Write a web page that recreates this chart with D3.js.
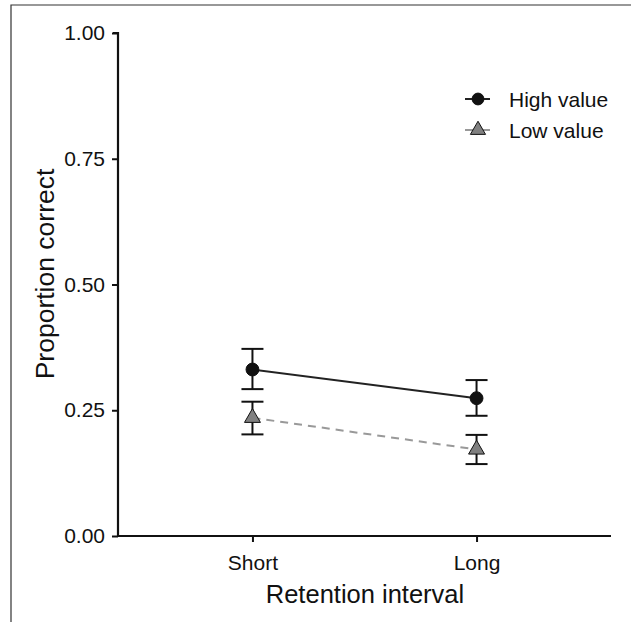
<!DOCTYPE html>
<html><head><meta charset="utf-8">
<script src="https://cdn.jsdelivr.net/npm/d3@7"></script>
<style>body{margin:0;background:#fff}svg{display:block}text{font-family:"Liberation Sans",Arial,sans-serif;fill:#111}</style>
</head><body>
<script>
const categories = ["Short", "Long"];
const seriesNames = ["High value", "Low value"];
const highMean = [0.331, 0.274];
const highLower = [0.292, 0.239];
const highUpper = [0.372, 0.310];
const lowMean = [0.235, 0.172];
const lowLower = [0.202, 0.143];
const lowUpper = [0.267, 0.201];
const yTicks = [0, 0.25, 0.5, 0.75, 1.0];

const W = 631, H = 622;
const svg = d3.select("body").append("svg").attr("width", W).attr("height", H);

// outer frame (partially visible)
svg.append("path").attr("d", `M11,${H} L11,5 L${W},5`).attr("fill","none").attr("stroke","#333").attr("stroke-width",1.2);

const x = d3.scalePoint().domain(categories).range([118, 611]).padding(0.6);
const y = d3.scaleLinear().domain([0, 1]).range([536, 33]);

const gx = svg.append("g").attr("transform", "translate(0,536)")
  .call(d3.axisBottom(x).tickSize(6).tickPadding(13));
const gy = svg.append("g").attr("transform", "translate(118,0)")
  .call(d3.axisLeft(y).tickValues(yTicks).tickFormat(d3.format(".2f")).tickSize(6).tickPadding(7));
[gx, gy].forEach(g => {
  g.attr("font-size", null).attr("font-family", null);
  g.select(".domain").attr("stroke", "#111").attr("stroke-width", 2.2);
  g.selectAll(".tick line").attr("stroke", "#111").attr("stroke-width", 2);
  g.selectAll(".tick text").style("font-size", "21px").attr("fill", "#111");
});
gx.select(".domain").attr("d", `M118,0H611`);
gy.select(".domain").attr("d", `M-5,${y(1)}H0V536`);

svg.append("text").attr("x", 365).attr("y", 603).attr("text-anchor", "middle").style("font-size", "25.5px").text("Retention interval");
svg.append("text").attr("transform", "translate(54,274) rotate(-90)").attr("text-anchor", "middle").style("font-size", "26.5px").text("Proportion correct");

const series = [
  {name: seriesNames[0], mean: highMean, lo: highLower, hi: highUpper, shape: "circle", lineColor: "#222", dash: null, fill: "#111"},
  {name: seriesNames[1], mean: lowMean, lo: lowLower, hi: lowUpper, shape: "triangle", lineColor: "#999", dash: "8,6", fill: "#808080"}
];

const line = d3.line().x((d, i) => x(categories[i])).y(d => y(d));
const sym = {circle: d3.symbol().type(d3.symbolCircle).size(130), triangle: d3.symbol().type(d3.symbolTriangle).size(110)};

series.forEach(s => {
  svg.append("path").datum(s.mean).attr("d", line).attr("fill", "none")
    .attr("stroke", s.lineColor).attr("stroke-width", 2).attr("stroke-dasharray", s.dash);
});
series.forEach(s => {
  const g = svg.append("g");
  categories.forEach((c, i) => {
    const cx = x(c);
    g.append("line").attr("x1", cx).attr("x2", cx).attr("y1", y(s.lo[i])).attr("y2", y(s.hi[i])).attr("stroke", "#111").attr("stroke-width", 2);
    [s.lo[i], s.hi[i]].forEach(v => g.append("line").attr("x1", cx - 11).attr("x2", cx + 11).attr("y1", y(v)).attr("y2", y(v)).attr("stroke", "#111").attr("stroke-width", 2));
    g.append("path").attr("d", sym[s.shape]()).attr("transform", `translate(${cx},${y(s.mean[i])})`)
      .attr("fill", s.fill).attr("stroke", "#111").attr("stroke-width", 1);
  });
});

// legend
const leg = svg.append("g");
series.forEach((s, i) => {
  const ly = 99 + i * 31;
  leg.append("line").attr("x1", 465).attr("x2", 490).attr("y1", ly).attr("y2", ly).attr("stroke", s.lineColor).attr("stroke-width", 2);
  leg.append("path").attr("d", s.shape === "circle" ? d3.symbol().type(d3.symbolCircle).size(110)() : d3.symbol().type(d3.symbolTriangle).size(100)())
    .attr("transform", `translate(478,${ly})`).attr("fill", s.fill).attr("stroke", "#111").attr("stroke-width", 1);
  leg.append("text").attr("x", 509).attr("y", ly + 7.5).style("font-size", "21px").text(s.name);
});
</script>
</body></html>
